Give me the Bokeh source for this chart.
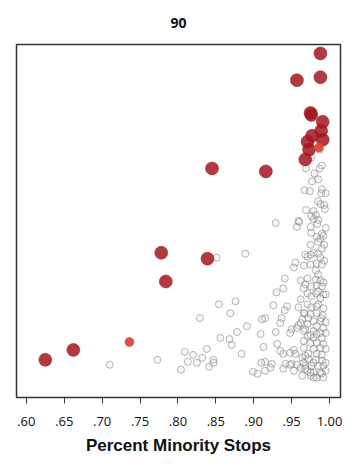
from bokeh.plotting import figure
from bokeh.embed import file_html
from bokeh.resources import INLINE
from bokeh.models import FixedTicker, Title

# Percent minority stops (x) and unlabeled vertical measure (y, arbitrary units)
gray_x = [0.976, 0.987, 0.969, 0.990, 0.987, 0.980, 0.985, 0.977, 0.990, 0.995, 0.967, 0.974, 0.989,
          0.985, 0.988, 0.993, 0.994, 0.969, 0.979, 0.982, 0.979, 0.959, 0.985, 0.929, 0.976,
          0.957, 0.960, 0.975, 0.984, 0.995, 0.976, 0.990, 0.983, 0.988, 0.992, 0.985, 0.993, 0.975,
          0.990, 0.979, 0.985, 0.971, 0.975, 0.988, 0.993, 0.955, 0.966, 0.975, 0.953, 0.983, 0.990,
          0.982, 0.985, 0.971, 0.982, 0.988, 0.992, 0.941, 0.962, 0.968, 0.976, 0.983, 0.990, 0.939,
          0.930, 0.971, 0.982, 0.985, 0.992, 0.976, 0.988, 0.962, 0.968, 0.966, 0.995,
          0.926, 0.944, 0.959, 0.971, 0.976, 0.985, 0.992, 0.941, 0.966, 0.975, 0.983, 0.991, 0.915,
          0.911, 0.937, 0.964, 0.979, 0.988, 0.995, 0.935, 0.971, 0.959, 0.983, 0.992, 0.950, 0.948,
          0.929, 0.968, 0.979, 0.988, 0.995, 0.909, 0.971, 0.979, 0.990, 0.966, 0.975, 0.983, 0.992,
          0.913, 0.931, 0.966, 0.979, 0.988, 0.995, 0.935, 0.939, 0.953, 0.955, 0.948, 0.972, 0.983,
          0.990, 0.964, 0.972, 0.982, 0.990, 0.924, 0.915, 0.942, 0.950, 0.957, 0.968, 0.976, 0.985,
          0.992, 0.915, 0.922, 0.939, 0.953, 0.971, 0.979, 0.988, 0.995, 0.964, 0.975, 0.983, 0.992,
          0.962, 0.968, 0.948, 0.966, 0.979, 0.995, 0.968, 0.975, 0.990, 0.979, 0.966, 0.975, 0.983,
          0.962, 0.957, 0.972, 0.989, 0.967, 0.983,
          0.899, 0.905, 0.910, 0.884, 0.891, 0.878, 0.869, 0.876, 0.854, 0.829, 0.856, 0.868, 0.871,
          0.838, 0.809, 0.820, 0.832, 0.813, 0.825, 0.847, 0.847, 0.841, 0.804, 0.773, 0.710, 0.851,
          0.889]
gray_y = [242, 250, 231, 234, 231, 226, 220, 218, 210, 206, 209, 208, 206,
          198, 195, 194, 190, 189, 188, 184, 180, 178, 179, 176, 183,
          172, 177, 172, 175, 171, 166, 165, 162, 160, 163, 157, 154, 154,
          150, 146, 145, 142, 144, 141, 138, 136, 133, 134, 131, 135, 134,
          128, 124, 120, 119, 118, 116, 120, 118, 114, 112, 113, 112, 110,
          106, 105, 105, 107, 104, 102, 100, 99, 144, 110, 104,
          93, 92, 91, 94, 91, 94, 90, 88, 85, 84, 85, 83, 80,
          79, 80, 79, 77, 77, 76, 75, 74, 73, 72, 70, 69, 65,
          66, 69, 67, 65, 65, 64, 62, 60, 60, 57, 55, 55, 54,
          51, 54, 50, 49, 50, 49, 47, 44, 48, 44, 45, 44, 44,
          43, 40, 39, 38, 37, 34, 36, 34, 34, 33, 32, 32, 32,
          32, 27, 30, 29, 27, 27, 25, 25, 27, 22, 22, 20, 20,
          30, 42, 33, 35, 35, 35, 29, 25, 24, 20, 67, 63, 64,
          75, 70, 80, 80, 85, 92,
          26, 24, 35, 44, 72, 66, 85, 97, 94, 80, 60, 59, 53,
          49, 46, 43, 40, 36, 35, 38, 35, 31, 28, 38, 33, 141,
          145]

red_x = [0.988, 0.988, 0.957, 0.976, 0.975, 0.991, 0.989, 0.977, 0.991, 0.971, 0.973, 0.968,
         0.916, 0.845, 0.778, 0.839, 0.784, 0.662, 0.625]
red_y = [347, 323, 320, 285, 287, 278, 269, 264, 260, 258, 250, 240,
         228, 231, 146, 140, 117, 48, 38]

light_x = [0.986, 0.736]
light_y = [252, 56]

xticks = [0.60, 0.65, 0.70, 0.75, 0.80, 0.85, 0.90, 0.95, 1.00]
xtick_labels = [".60", ".65", ".70", ".75", ".80", ".85", ".90", ".95", "1.00"]
title_text = "90"

p = figure(width=352, height=465, output_backend="svg", toolbar_location=None,
           x_range=(0.587, 1.0145), y_range=(0, 356),
           min_border_left=16, min_border_right=12, min_border_top=44, min_border_bottom=68)

# spacer between title and frame, then the visible title
p.add_layout(Title(text=" ", text_font_size="9px", standoff=0), "above")
p.add_layout(Title(text=title_text, align="center", text_font="Open Sans", text_font_size="14px",
                   text_font_style="bold", text_color="#111111"), "above")

p.scatter(gray_x, gray_y, size=7, marker="circle", fill_color="#dddddd", fill_alpha=0.2,
          line_color="#6f6f6f", line_alpha=0.5, line_width=1)
p.scatter(red_x, red_y, size=13, marker="circle", fill_color="#a3161f", fill_alpha=0.85,
          line_color="#a3161f", line_alpha=0.5)
p.scatter(light_x, light_y, size=9, marker="circle", fill_color="#e0453c", fill_alpha=0.95,
          line_color="#e0453c", line_alpha=0.5)

p.xgrid.visible = False
p.ygrid.visible = False
p.yaxis.visible = False
p.outline_line_color = "#333333"
p.outline_line_width = 1.5
p.outline_line_alpha = 1

xa = p.xaxis[0]
xa.ticker = FixedTicker(ticks=xticks)
xa.major_label_overrides = {t: l for t, l in zip(xticks, xtick_labels)}
xa.major_tick_in = 0
xa.major_tick_out = 6
xa.minor_tick_line_color = None
xa.axis_line_color = "#333333"
xa.major_tick_line_color = "#333333"
xa.major_label_text_font = "Open Sans"
xa.major_label_text_font_size = "13px"
xa.major_label_text_color = "#111111"
xa.major_label_standoff = 13
xa.axis_label = "Percent Minority Stops"
xa.axis_label_text_font = "Liberation Sans"
xa.axis_label_text_font_size = "17px"
xa.axis_label_text_font_style = "bold"
xa.axis_label_text_color = "#111111"
xa.axis_label_standoff = 7

open("out.html", "w").write(file_html(p, INLINE))
